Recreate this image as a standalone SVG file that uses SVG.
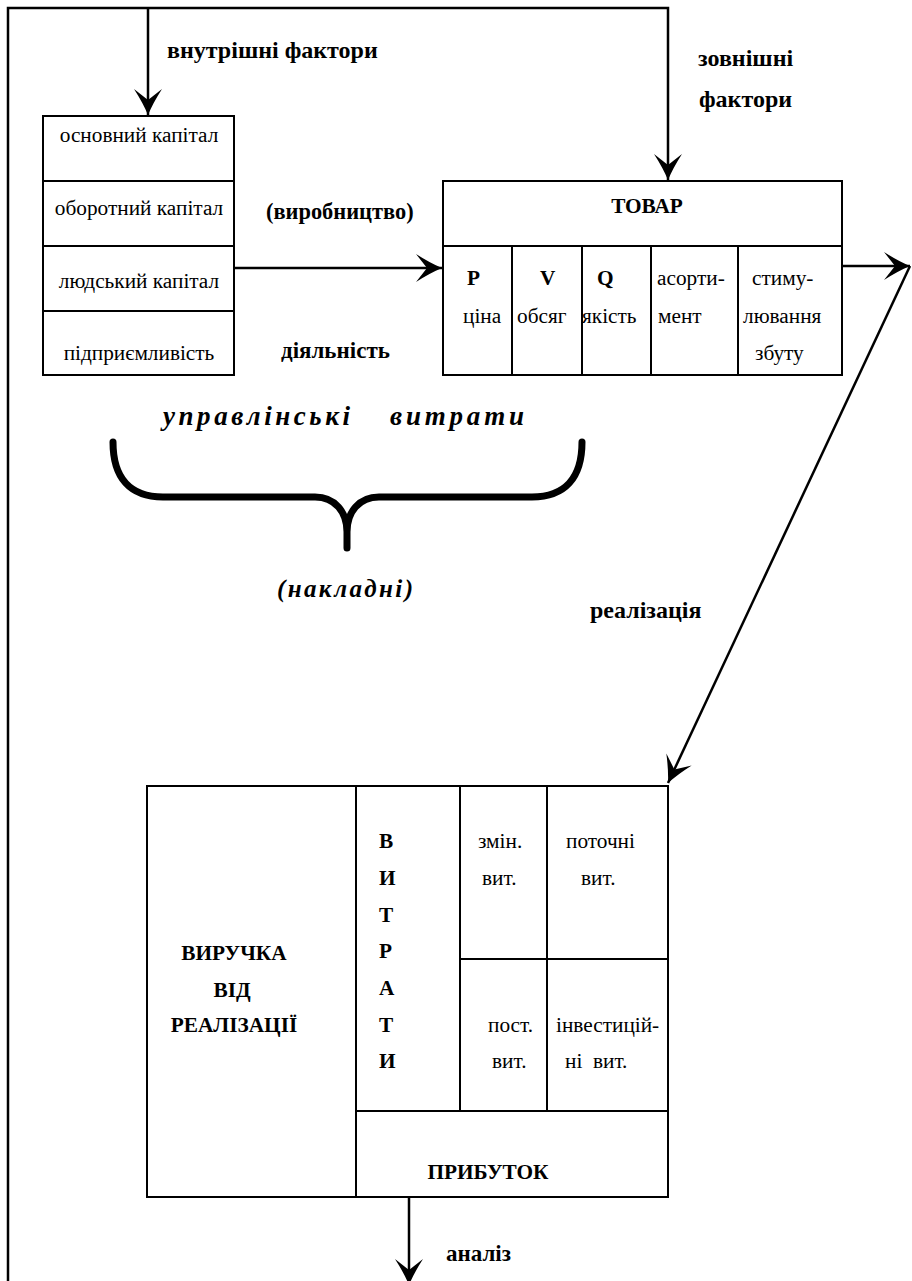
<svg xmlns="http://www.w3.org/2000/svg" width="912" height="1281" viewBox="0 0 912 1281">
<style>
  .box { fill: none; stroke: #000; stroke-width: 2; }
  .ln { fill: none; stroke: #000; stroke-width: 2.5; }
  .t { font-family: 'Liberation Serif', 'Times New Roman', serif; font-size: 21.3px; fill: #000; }
  .b { font-weight: bold; }
  .lb { font-weight: bold; font-size: 24px; }
  .c { text-anchor: middle; }
  .bi { font-weight: bold; font-style: italic; font-size: 27px; }
</style>
<defs>
  <marker id="ah" markerUnits="userSpaceOnUse" markerWidth="32" markerHeight="32" viewBox="-28 -16 32 32" refX="0" refY="0" orient="auto">
    <path d="M0,0 Q-12,-5 -26,-14 L-15,0 L-26,14 Q-12,5 0,0 Z" fill="#000"/>
  </marker>
</defs>
<rect width="912" height="1281" fill="#fff"/>

<g id="connectors">
  <polyline class="ln" points="8,1281 8,8 668,8 668,180" marker-end="url(#ah)"/>
  <line class="ln" x1="148" y1="8" x2="148" y2="115" marker-end="url(#ah)"/>
  <line class="ln" x1="234" y1="268" x2="442" y2="268" marker-end="url(#ah)"/>
  <line class="ln" x1="842" y1="266" x2="910" y2="266" marker-end="url(#ah)"/>
  <line class="ln" x1="910" y1="266" x2="668" y2="783" marker-end="url(#ah)"/>
  <line class="ln" x1="409" y1="1197" x2="409" y2="1285" marker-end="url(#ah)"/>
  <text class="t lb" x="167" y="58">внутрішні фактори</text>
  <text class="t lb" x="698" y="66">зовнішні</text>
  <text class="t lb" x="699" y="107">фактори</text>
  <text class="t lb" x="266" y="219" style="font-size:22.4px">(виробництво)</text>
  <text class="t lb" x="281" y="358" style="font-size:23px">діяльність</text>
  <text class="t lb" x="590" y="618">реалізація</text>
  <text class="t lb" x="446" y="1261" style="font-size:23px">аналіз</text>
</g>

<g id="resources">
  <rect class="box" x="43" y="116" width="191" height="259"/>
  <line class="box" x1="43" y1="181" x2="234" y2="181"/>
  <line class="box" x1="43" y1="246" x2="234" y2="246"/>
  <line class="box" x1="43" y1="311" x2="234" y2="311"/>
  <text class="t c" x="139" y="142">основний капітал</text>
  <text class="t c" x="139" y="215">оборотний капітал</text>
  <text class="t c" x="139" y="288">людський капітал</text>
  <text class="t c" x="139" y="360">підприємливість</text>
</g>

<g id="tovar">
  <rect class="box" x="443" y="181" width="399" height="194"/>
  <line class="box" x1="443" y1="246" x2="842" y2="246"/>
  <line class="box" x1="512" y1="246" x2="512" y2="375"/>
  <line class="box" x1="582" y1="246" x2="582" y2="375"/>
  <line class="box" x1="651" y1="246" x2="651" y2="375"/>
  <line class="box" x1="738" y1="246" x2="738" y2="375"/>
  <text class="t b c" x="647" y="213">ТОВАР</text>
  <text class="t b" x="467" y="285">P</text>
  <text class="t" x="463" y="323">ціна</text>
  <text class="t b" x="540" y="285">V</text>
  <text class="t" x="517" y="323">обсяг</text>
  <text class="t b" x="597" y="285">Q</text>
  <text class="t" x="582" y="323">якість</text>
  <text class="t" x="657" y="285">асорти-</text>
  <text class="t" x="658" y="323">мент</text>
  <text class="t" x="752" y="285">стиму-</text>
  <text class="t" x="743" y="323">лювання</text>
  <text class="t" x="755" y="360">збуту</text>
</g>

<g id="overhead">
  <path d="M113,442 C113,478 130,497 163,497 L315,497 C335,497 347,512 347,532 L347,548 M347,532 C347,512 359,497 379,497 L532,497 C565,497 582,478 582,442" fill="none" stroke="#000" stroke-width="7" stroke-linecap="round"/>
  <text class="t bi" x="163" y="425" textLength="187" lengthAdjust="spacing">управлінські</text>
  <text class="t bi" x="390" y="425" textLength="134" lengthAdjust="spacing">витрати</text>
  <text class="t bi" x="277" y="597" textLength="136" lengthAdjust="spacing" style="font-size:25px">(накладні)</text>
</g>

<g id="result">
  <rect class="box" x="147" y="786" width="521" height="411"/>
  <line class="box" x1="356" y1="786" x2="356" y2="1197"/>
  <line class="box" x1="460" y1="786" x2="460" y2="1111"/>
  <line class="box" x1="547" y1="786" x2="547" y2="1111"/>
  <line class="box" x1="460" y1="959" x2="668" y2="959"/>
  <line class="box" x1="356" y1="1111" x2="668" y2="1111"/>
  <text class="t b c" x="234" y="960">ВИРУЧКА</text>
  <text class="t b c" x="232" y="997">ВІД</text>
  <text class="t b c" x="234" y="1032">РЕАЛІЗАЦІЇ</text>
  <text class="t b" x="379" y="848">В</text>
  <text class="t b" x="379" y="885">И</text>
  <text class="t b" x="379" y="922">Т</text>
  <text class="t b" x="379" y="958">Р</text>
  <text class="t b" x="379" y="995">А</text>
  <text class="t b" x="379" y="1032">Т</text>
  <text class="t b" x="379" y="1068">И</text>
  <text class="t" x="478" y="848">змін.</text>
  <text class="t" x="482" y="885">вит.</text>
  <text class="t" x="566" y="848">поточні</text>
  <text class="t" x="581" y="885">вит.</text>
  <text class="t" x="488" y="1032">пост.</text>
  <text class="t" x="492" y="1068">вит.</text>
  <text class="t" x="556" y="1032">інвестицій-</text>
  <text class="t" x="565" y="1068" xml:space="preserve">ні  вит.</text>
  <text class="t b c" x="488" y="1179">ПРИБУТОК</text>
</g>
</svg>
